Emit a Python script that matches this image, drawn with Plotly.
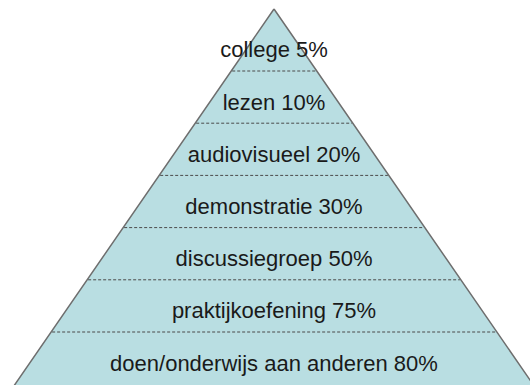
import plotly.graph_objects as go

# Data
levels = ["college", "lezen", "audiovisueel", "demonstratie",
          "discussiegroep", "praktijkoefening", "doen/onderwijs aan anderen"]
percent = [5, 10, 20, 30, 50, 75, 80]

# Layout constants (pixel space of the 530x385 canvas)
W, H = 530, 385
APEX_X, APEX_Y = 274, 9
BASE_Y = 388
SLOPE = 0.69
FIRST_SEP = 71
BAND_H = 52.2
TEXT_SHIFT = 7

def left_x(y):
    return APEX_X - SLOPE * (y - APEX_Y)

def right_x(y):
    return APEX_X + SLOPE * (y - APEX_Y)

fig = go.Figure()

# pyramid body
fig.add_trace(go.Scatter(
    x=[APEX_X, right_x(BASE_Y), left_x(BASE_Y), APEX_X],
    y=[APEX_Y, BASE_Y, BASE_Y, APEX_Y],
    mode="lines", fill="toself", fillcolor="#B9DEE2",
    line=dict(color="#6E6E6E", width=1.5),
    hoverinfo="skip", showlegend=False,
))

# dashed separators between levels
for k in range(len(levels) - 1):
    y = FIRST_SEP + BAND_H * k
    fig.add_shape(type="line", x0=left_x(y) + 1, x1=right_x(y) - 1, y0=y, y1=y,
                  line=dict(color="#4A4A4A", width=1, dash="3px,2px"))

# labels
labels = [f"{l} {p}%" for l, p in zip(levels, percent)]
ys = [FIRST_SEP + BAND_H * (i - 0.5) + TEXT_SHIFT for i in range(len(levels))]
fig.add_trace(go.Scatter(
    x=[APEX_X] * len(levels), y=ys, mode="text", text=labels,
    textposition="middle center",
    textfont=dict(family="Liberation Sans, Arial, sans-serif", size=22, color="#1A1A1A"),
    hoverinfo="skip", showlegend=False,
))

fig.update_layout(
    width=W, height=H,
    margin=dict(l=0, r=0, t=0, b=0),
    paper_bgcolor="white", plot_bgcolor="white",
    xaxis=dict(range=[0, W], visible=False, fixedrange=True),
    yaxis=dict(range=[H, 0], visible=False, fixedrange=True),
)

fig.write_html("out.html")
